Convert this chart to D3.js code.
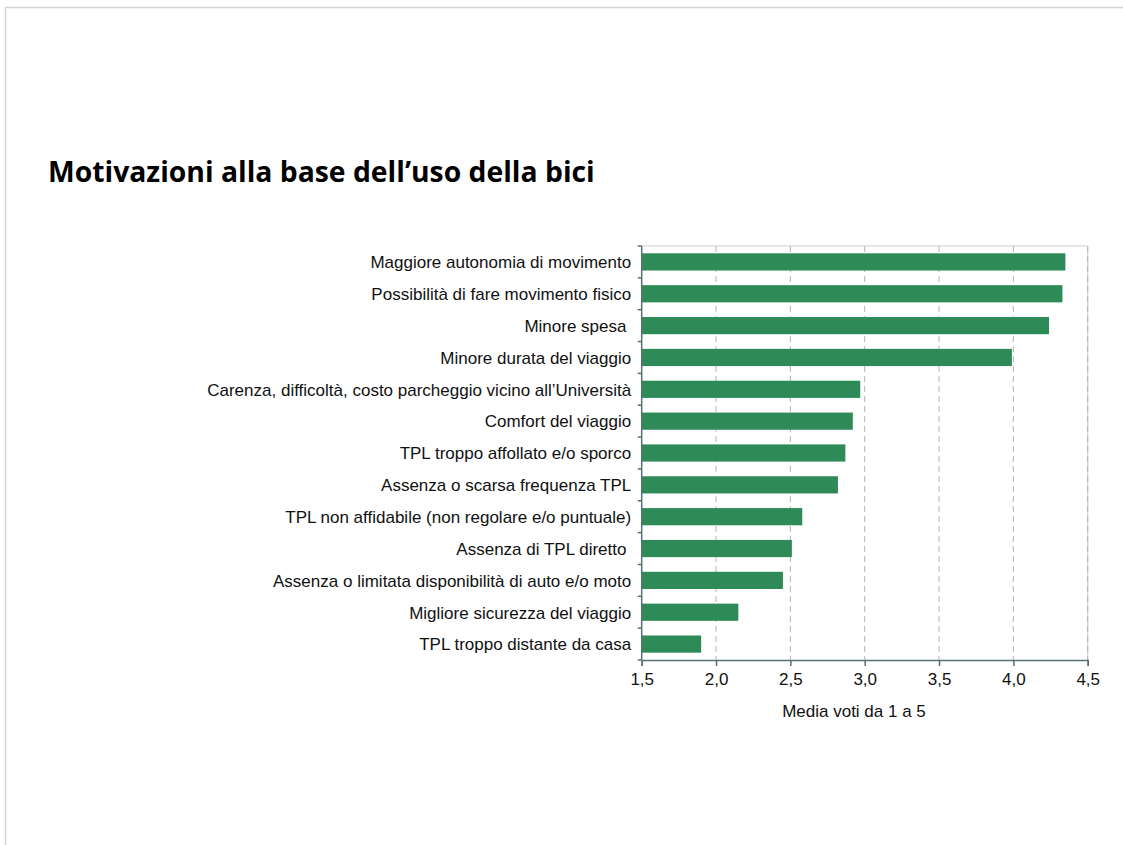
<!DOCTYPE html>
<html>
<head>
<meta charset="utf-8">
<script src="https://cdn.jsdelivr.net/npm/d3@7"></script>
<style>
  html, body { margin: 0; padding: 0; background: #fff; }
  svg { display: block; }
  text { white-space: pre; }
</style>
</head>
<body>
<svg id="chart" width="1123" height="845"></svg>
<script>
const title = "Motivazioni alla base dell\u2019uso della bici";
const axisTitle = "Media voti da 1 a 5";
const categories = [
  "Maggiore autonomia di movimento",
  "Possibilità di fare movimento fisico",
  "Minore spesa ",
  "Minore durata del viaggio",
  "Carenza, difficoltà, costo parcheggio vicino all\u2019Università",
  "Comfort del viaggio",
  "TPL troppo affollato e/o sporco",
  "Assenza o scarsa frequenza TPL",
  "TPL non affidabile (non regolare e/o puntuale)",
  "Assenza di TPL diretto ",
  "Assenza o limitata disponibilità di auto e/o moto",
  "Migliore sicurezza del viaggio",
  "TPL troppo distante da casa"
];
const values = [4.35, 4.33, 4.24, 3.99, 2.97, 2.92, 2.87, 2.82, 2.58, 2.51, 2.45, 2.15, 1.90];
const tickValues = [1.5, 2.0, 2.5, 3.0, 3.5, 4.0, 4.5];
const tickLabels = ["1,5", "2,0", "2,5", "3,0", "3,5", "4,0", "4,5"];

const svg = d3.select("#chart");
const W = 1123, H = 845;
const plot = { left: 641.7, right: 1087.7, top: 246, bottom: 660 };
const axisColor = "#557272";
const barColor = "#2e8b57";
const fontFam = "'Liberation Sans', Arial, sans-serif";

// slide frame
svg.append("line").attr("x1", 5).attr("x2", W).attr("y1", 7.5).attr("y2", 7.5)
  .attr("stroke", "#d4d4d4").attr("stroke-width", 1.5);
svg.append("line").attr("x1", 5.5).attr("x2", 5.5).attr("y1", 7).attr("y2", H)
  .attr("stroke", "#d4d4d4").attr("stroke-width", 1.5);

// title fitted to reference width
const t = svg.append("text").attr("x", 48).attr("y", 181.5)
  .attr("font-family", "'Open Sans', 'Noto Sans', sans-serif")
  .attr("font-weight", "bold").attr("font-size", 26).attr("fill", "#000")
  .text(title);
const tw = t.node().getComputedTextLength();
t.attr("font-size", 26 * 547 / tw);

const x = d3.scaleLinear().domain([1.5, 4.5]).range([plot.left, plot.right]);
const y = d3.scaleBand().domain(categories).range([plot.top, plot.bottom])
  .paddingInner(0.46).paddingOuter(0.23);

// top & right borders
svg.append("line").attr("x1", plot.left).attr("x2", plot.right)
  .attr("y1", plot.top).attr("y2", plot.top).attr("stroke", "#d0d0d0").attr("stroke-width", 1.2);
svg.append("line").attr("x1", plot.right).attr("x2", plot.right)
  .attr("y1", plot.top).attr("y2", plot.bottom).attr("stroke", "#d0d0d0").attr("stroke-width", 1.2);

// gridlines
svg.append("g").selectAll("line").data(tickValues.slice(1)).join("line")
  .attr("x1", d => x(d)).attr("x2", d => x(d))
  .attr("y1", plot.top).attr("y2", plot.bottom)
  .attr("stroke", "#b4b4b4").attr("stroke-width", 1).attr("stroke-dasharray", "6,4");

// bars
svg.append("g").selectAll("rect").data(categories).join("rect")
  .attr("x", x(1.5))
  .attr("y", d => y(d))
  .attr("width", (d, i) => x(values[i]) - x(1.5))
  .attr("height", y.bandwidth())
  .attr("fill", barColor);

// x axis
const xAxis = d3.axisBottom(x).tickValues(tickValues)
  .tickFormat((d, i) => tickLabels[i]).tickSize(6).tickPadding(5);
const gx = svg.append("g").attr("transform", `translate(0,${plot.bottom})`).call(xAxis);
gx.select(".domain").attr("stroke", axisColor).attr("stroke-width", 1.5);
gx.selectAll(".tick line").attr("stroke", axisColor).attr("stroke-width", 1.5);
gx.selectAll(".tick text").attr("font-family", fontFam)
  .attr("font-size", 17).attr("fill", "#111").attr("dy", "0.85em");

// y axis line with ticks at band boundaries
const boundaries = categories.map(c => y(c) - y.step() * y.paddingInner() / 2);
boundaries[0] = plot.top;
boundaries.push(plot.bottom);
svg.append("line").attr("x1", plot.left).attr("x2", plot.left)
  .attr("y1", plot.top).attr("y2", plot.bottom)
  .attr("stroke", axisColor).attr("stroke-width", 1.5);
svg.append("g").selectAll("line").data(boundaries).join("line")
  .attr("x1", plot.left - 4).attr("x2", plot.left)
  .attr("y1", d => d).attr("y2", d => d)
  .attr("stroke", axisColor).attr("stroke-width", 1.5);

// category labels
svg.append("g").selectAll("text").data(categories).join("text")
  .attr("x", plot.left - 10.5)
  .attr("y", d => y(d) + y.bandwidth() / 2)
  .attr("dy", "0.37em")
  .attr("text-anchor", "end")
  .attr("font-family", fontFam)
  .attr("font-size", 17).attr("fill", "#111")
  .text(d => d);

// axis title
svg.append("text").attr("x", 854).attr("y", 717)
  .attr("text-anchor", "middle")
  .attr("font-family", fontFam)
  .attr("font-size", 17).attr("fill", "#111")
  .text(axisTitle);
</script>
</body>
</html>
